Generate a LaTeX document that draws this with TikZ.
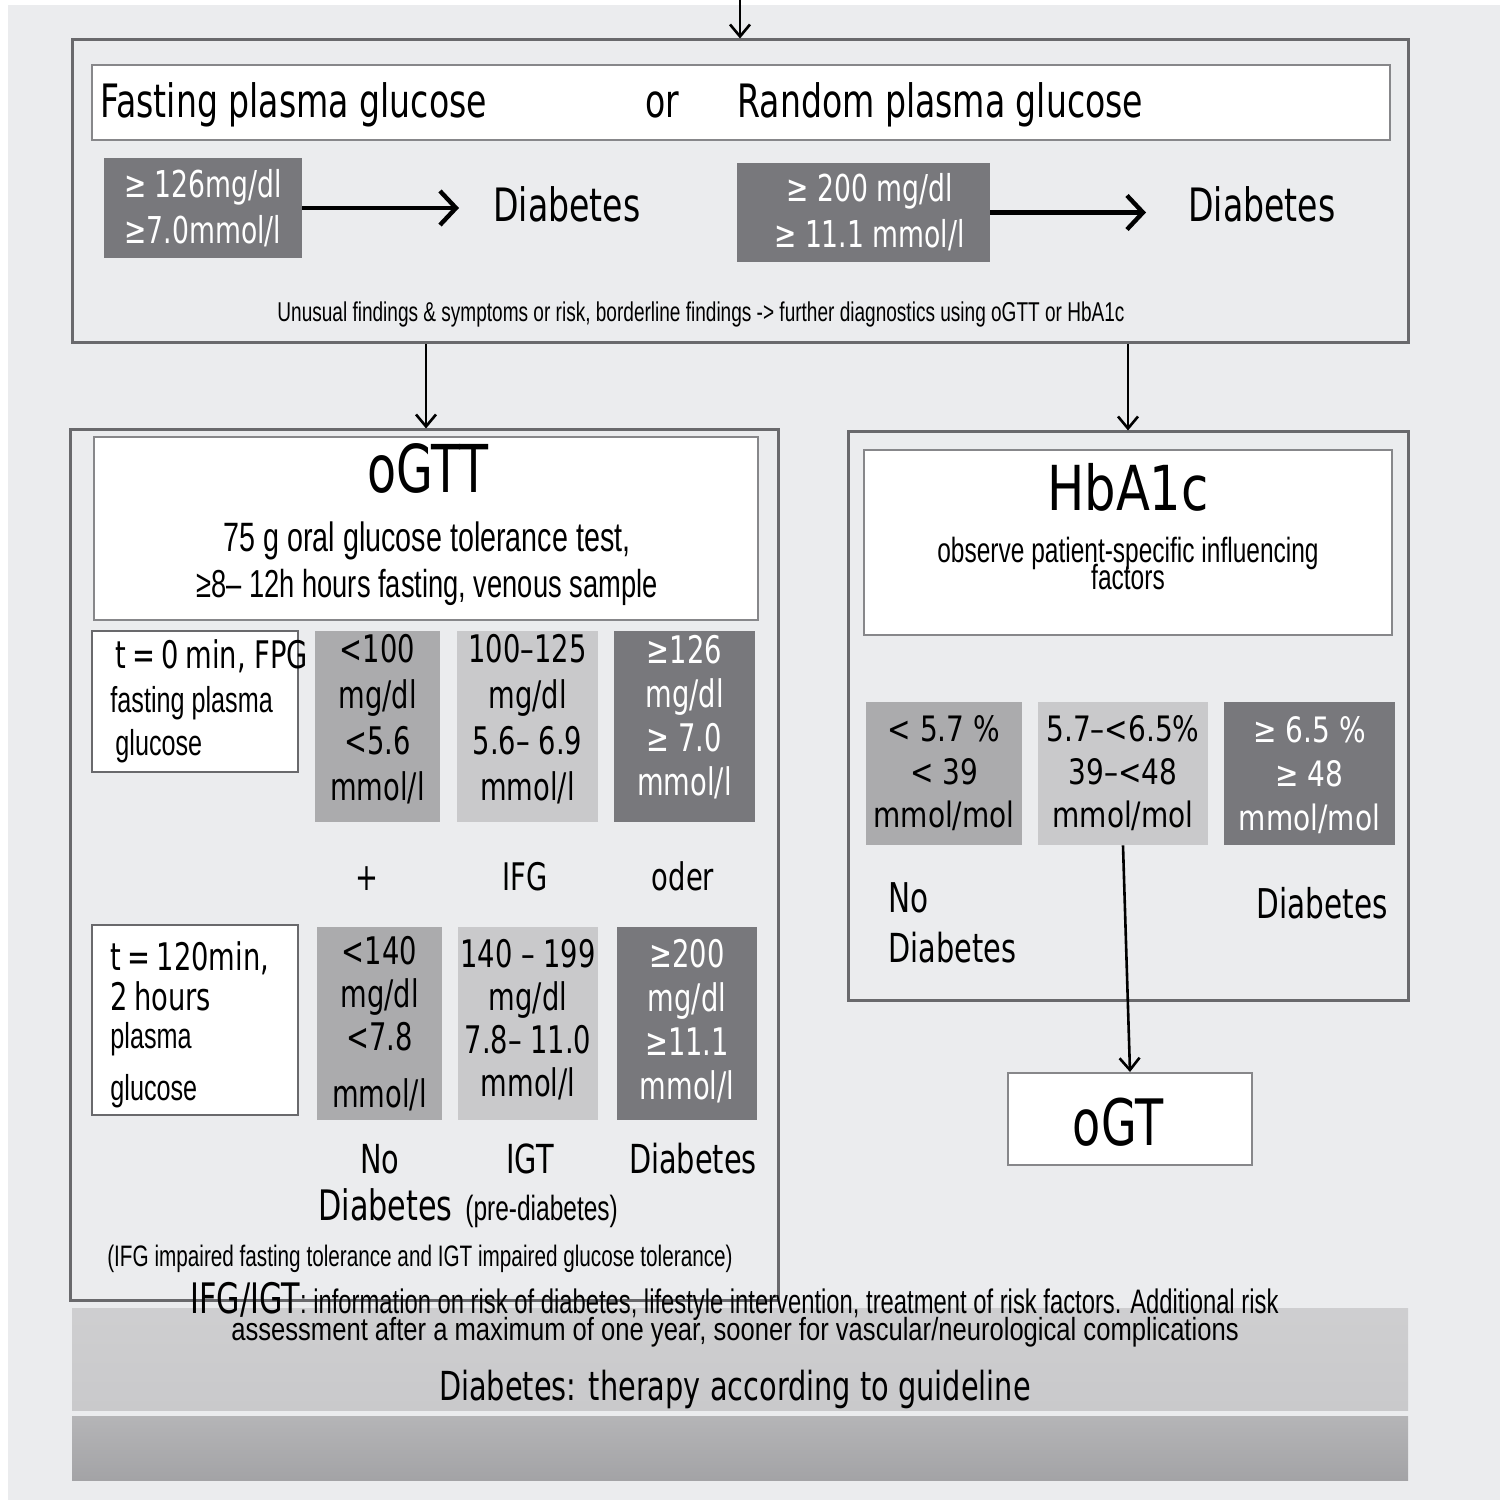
\documentclass[tikz,border=0pt]{standalone}
\usepackage{fontspec}
\setmainfont{DejaVu Sans}
\newfontfamily\fm[FakeStretch=0.72]{DejaVu Sans}
\newfontfamily\fn[FakeStretch=0.70]{Liberation Sans}
\newfontfamily\fnb[FakeStretch=0.80]{Liberation Sans}
\newfontfamily\fw[FakeStretch=0.80]{DejaVu Sans}
\newcommand\myfs[2]{\fontsize{#1pt}{#2pt}\selectfont}
\usetikzlibrary{arrows.meta,fit}
\definecolor{bgc}{RGB}{235,236,238}
\definecolor{darkc}{RGB}{120,120,124}
\definecolor{midc}{RGB}{171,171,173}
\definecolor{lightc}{RGB}{201,201,203}
\definecolor{strokec}{RGB}{105,105,108}
\definecolor{hdrc}{RGB}{135,135,138}
\begin{document}
\begin{tikzpicture}[x=0.5pt,y=-0.5pt,
  box/.style={draw=strokec,line width=1.5pt,fill=bgc,inner sep=0pt},
  hdr/.style={draw=hdrc,line width=1pt,fill=white,inner sep=0pt},
  lbox/.style={draw=strokec,line width=1.2pt,fill=white,inner sep=0pt},
  vdark/.style={fill=darkc,inner sep=0pt},
  vmid/.style={fill=midc,inner sep=0pt},
  vlight/.style={fill=lightc,inner sep=0pt},
  vt/.style={inner sep=0pt,align=center},
  txt/.style={inner sep=0pt},
  harr/.style={line width=2.2pt,-{Straight Barb[length=8pt,width=17pt]}},
  darr/.style={line width=1.3pt,-{Straight Barb[length=6pt,width=10pt]}}]
\useasboundingbox (0,0) rectangle (1506,1503);
\fill[white] (0,0) rectangle (1506,1503);
\fill[bgc] (8,5) rectangle (1500,1500);

% ---------- top box ----------
\node[box,fit={(72,40)(1408,343)}] (top) {};
\node[hdr,fit={(92,65)(1390,140)}] (tophdr) {};
\node[txt,anchor=base west,font=\fm\myfs{23}{28}] (fpg) at (100,118) {Fasting plasma glucose};
\node[txt,anchor=base,font=\fm\myfs{23}{28}] (or) at (662,118) {or};
\node[txt,anchor=base west,font=\fm\myfs{23}{28}] (rpg) at (737,118) {Random plasma glucose};
\node[vdark,fit={(104,158)(302,258)}] (b1) {};
\node[vt,text=white,font=\fm\myfs{18.5}{23}] (b1t) at (b1) {≥ 126mg/dl\\≥7.0mmol/l};
\node[txt,anchor=base west,font=\fm\myfs{23}{28}] (d1) at (493,222) {Diabetes};
\node[vdark,fit={(737,163)(990,262)}] (b2) {};
\node[vt,text=white,font=\fm\myfs{18.5}{23}] (b2t) at ([xshift=3pt]b2.center) {≥ 200 mg/dl\\≥ 11.1 mmol/l};
\node[txt,anchor=base west,font=\fm\myfs{23}{28}] (d2) at (1188,222) {Diabetes};
\node[txt,anchor=base,font=\fn\myfs{13.6}{16}] (note) at (701,322) {Unusual findings \& symptoms or risk, borderline findings -> further diagnostics using oGTT or HbA1c};

% ---------- oGTT ----------
\node[box,fit={(70,430)(778,1300)}] (ogtt) {};
\node[hdr,fit={(94,437)(758,620)}] (ogtthdr) {};
\node[txt,anchor=base,font=\fm\myfs{33}{38}] (ogtttitle) at (428,493) {oGTT};
\node[txt,anchor=base,font=\fn\myfs{20.5}{24}] (ogttl1) at (427,552) {75 g oral glucose tolerance test,};
\node[txt,anchor=base,font=\fn\myfs{19.5}{24}] (ogttl2) at (427,597) {≥8– 12h hours fasting, venous sample};

\node[lbox,fit={(92,631)(298,772)}] (t0) {};
\node[txt,anchor=base west,font=\fm\myfs{19}{22}] (t0a) at (115,668) {t\,=\,0\,min, FPG};
\node[txt,anchor=base west,font=\fn\myfs{18}{22}] (t0b) at (110,712) {fasting plasma};
\node[txt,anchor=base west,font=\fn\myfs{18}{22}] (t0c) at (115,755) {glucose};
\node[vmid,fit={(315,631)(440,822)}] (r1a) {};
\node[vt,yshift=3.5pt,font=\fm\myfs{19}{23}] (r1at) at (r1a) {<100\\mg/dl\\<5.6\\mmol/l};
\node[vlight,fit={(457,631)(598,822)}] (r1b) {};
\node[vt,yshift=3.5pt,font=\fm\myfs{19}{23}] (r1bt) at (r1b) {100–125\\mg/dl\\5.6– 6.9\\mmol/l};
\node[vdark,fit={(614,631)(755,822)}] (r1c) {};
\node[vt,yshift=4.5pt,text=white,font=\fm\myfs{19}{22}] (r1ct) at (r1c) {≥126\\mg/dl\\≥ 7.0\\mmol/l};

\node[txt,anchor=base,font=\fm\myfs{19}{22}] (plus) at (367,890) {+};
\node[txt,anchor=base,font=\fm\myfs{19}{22}] (ifg) at (525,890) {IFG};
\node[txt,anchor=base,font=\fm\myfs{19}{22}] (oder) at (683,890) {oder};

\node[lbox,fit={(92,925)(298,1115)}] (t120) {};
\node[txt,anchor=base west,font=\fm\myfs{19}{22}] (t120a) at (110,970) {t\,=\,120min,};
\node[txt,anchor=base west,font=\fm\myfs{19}{22}] (t120b) at (110,1010) {2\,hours};
\node[txt,anchor=base west,font=\fn\myfs{18}{22}] (t120c) at (110,1048) {plasma};
\node[txt,anchor=base west,font=\fn\myfs{18}{22}] (t120d) at (110,1100) {glucose};
\node[vmid,fit={(317,927)(442,1120)}] (r2a) {};
\node[vt,font=\fm\myfs{19}{21.5}] (r2at) at (r2a) {<140\\mg/dl\\<7.8\\[7pt]mmol/l};
\node[vlight,fit={(458,927)(598,1120)}] (r2b) {};
\node[vt,yshift=2pt,font=\fm\myfs{19}{21.5}] (r2bt) at (r2b) {140 – 199\\mg/dl\\7.8– 11.0\\mmol/l};
\node[vdark,fit={(617,927)(757,1120)}] (r2c) {};
\node[vt,yshift=1pt,text=white,font=\fm\myfs{19}{22}] (r2ct) at (r2c) {≥200\\mg/dl\\≥11.1\\mmol/l};

\node[txt,anchor=base,font=\fm\myfs{20}{24}] (no1) at (380,1173) {No};
\node[txt,anchor=base,font=\fm\myfs{20}{24}] (igt) at (530,1173) {IGT};
\node[txt,anchor=base,font=\fm\myfs{20}{24}] (dia1) at (693,1173) {Diabetes};
\node[txt,anchor=base west,font=\fm\myfs{21}{24}] (dia2) at (318,1220) {Diabetes};
\node[txt,anchor=base west,font=\fn\myfs{17.5}{20}] (pre) at (465,1220) {(pre-diabetes)};
\node[txt,anchor=base,font=\fn\myfs{14.8}{17}] (ifgnote) at (420,1266) {(IFG impaired fasting tolerance and IGT impaired glucose tolerance)};

% ---------- HbA1c ----------
\node[box,fit={(848,432)(1408,1000)}] (hba) {};
\node[hdr,fit={(864,450)(1392,635)}] (hbahdr) {};
\node[txt,anchor=base,font=\fw\myfs{31}{36}] (hbatitle) at (1128,510) {HbA1c};
\node[txt,anchor=base,font=\fn\myfs{17.5}{20}] (hbasub1) at (1128,562) {observe patient-specific influencing};
\node[txt,anchor=base,font=\fn\myfs{17.5}{20}] (hbasub2) at (1128,589) {factors};
\node[vmid,fit={(866,702)(1022,845)}] (h1) {};
\node[vt,font=\fw\myfs{17.5}{21.5}] (h1t) at (h1) {< 5.7 \%\\< 39\\mmol/mol};
\node[vlight,fit={(1038,702)(1208,845)}] (h2) {};
\node[vt,font=\fw\myfs{17.5}{21.5}] (h2t) at (h2) {5.7–<6.5\%\\39–<48\\mmol/mol};
\node[vdark,fit={(1224,702)(1395,845)}] (h3) {};
\node[vt,yshift=-1pt,text=white,font=\fw\myfs{17.5}{22}] (h3t) at (h3) {≥ 6.5 \%\\≥ 48\\mmol/mol};
\node[txt,anchor=base west,font=\fm\myfs{20.5}{24}] (no2) at (888,912) {No};
\node[txt,anchor=base west,font=\fm\myfs{20}{24}] (dia3) at (888,962) {Diabetes};
\node[txt,anchor=base east,font=\fm\myfs{20.5}{24}] (dia4) at (1388,918) {Diabetes};

\node[hdr,fit={(1008,1073)(1252,1165)}] (ogt) {};
\node[txt,anchor=base,font=\fm\myfs{32}{36}] (ogttitle) at (1118,1145) {oGT};

% ---------- bottom bands ----------
\node[inner sep=0pt,fit={(72,1308)(1408,1410)},top color=lightc!90!white,bottom color=lightc] (band1) {};
\node[inner sep=0pt,fit={(72,1416)(1408,1480)},top color=darkc!55!white,bottom color=darkc!68!white] (band2) {};
\node[txt,anchor=base west] (ifgigt) at (190,1313) {{\fm\myfs{21}{24}IFG/IGT}{\fn\myfs{17}{18}: information on risk of diabetes, lifestyle intervention, treatment of risk factors. Additional risk}};
\node[txt,anchor=base,font=\fnb\myfs{16}{18}] (assess) at (735,1340) {assessment after a maximum of one year, sooner for vascular/neurological complications};
\node[txt,anchor=base,font=\fm\myfs{20}{22}] (ther) at (735,1400) {Diabetes: therapy according to guideline};

% ---------- connectors ----------
\coordinate (entry) at (740,0);
\draw[darr] (entry) -- (top.north);
\draw[harr,shorten >=17pt] (b1.east) -- (b1.east -| d1.west);
\draw[harr,shorten >=21pt] (b2.east) -- (b2.east -| d2.west);
\draw[darr] (top.south -| ogtthdr) -- (ogtt.north -| ogtthdr);
\draw[darr] (top.south -| hbahdr) -- (hba.north -| hbahdr);
\draw[darr] (h2.south) -- (ogt.north);
\end{tikzpicture}
\end{document}
